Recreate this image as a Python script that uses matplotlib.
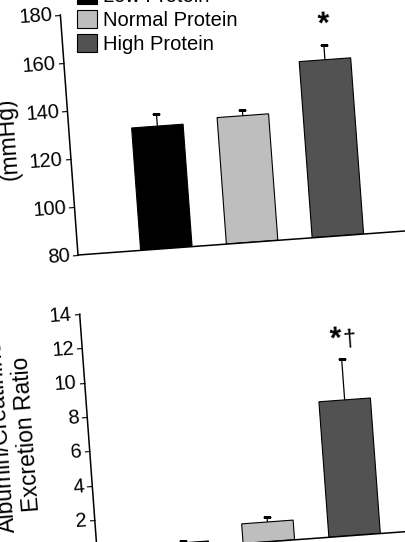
import numpy as np
import matplotlib
matplotlib.use('Agg')
import matplotlib.pyplot as plt
from matplotlib.transforms import Affine2D
from matplotlib.patches import Patch
import mpl_toolkits.axisartist.floating_axes as floating_axes
from mpl_toolkits.axisartist.grid_finder import FixedLocator, DictFormatter

plt.rcParams['font.family'] = ['Liberation Sans', 'DejaVu Sans']
plt.rcParams['xtick.labelsize'] = 14.5
plt.rcParams['ytick.labelsize'] = 14.5

# groups and colours
groups = ['Low Protein', 'Normal Protein', 'High Protein']
colors = ['#000000', '#bebebe', '#525252']
xpos = [1, 2, 3]

# top panel: blood pressure (mmHg), mean and +SE
bp_mean = [131.0, 132.7, 153.4]
bp_err = [5.2, 2.5, 6.2]
bp_ticks = [80, 100, 120, 140, 160, 180]

# bottom panel: albumin/creatinine excretion ratio
acr_mean = [0.3, 1.15, 7.9]
acr_err = [0.1, 0.3, 2.4]
acr_ticks = [0, 2, 4, 6, 8, 10, 12, 14]

FIG_W, FIG_H = 406, 542
ANGLE = 4.2   # the scanned figure is tilted a little


def tilted_axes(fig, origin, xlim, ylim, px_x, px_y, yticks):
    # data -> pixels (rotated), so the host axes works in plain pixel units
    tr = Affine2D().translate(-xlim[0], -ylim[0]).scale(px_x, px_y).rotate_deg(ANGLE)
    c, s = np.cos(np.radians(ANGLE)), np.sin(np.radians(ANGLE))
    w = (xlim[1] - xlim[0]) * px_x
    h = (ylim[1] - ylim[0]) * px_y
    bw, bh = w * c + h * s, w * s + h * c
    # floating axes pads its limits by 2 %
    left = origin[0] - h * s - 0.01 * bw
    bottom = origin[1] - 0.01 * bh
    rect = [left / FIG_W, bottom / FIG_H, 1.02 * bw / FIG_W, 1.02 * bh / FIG_H]

    gh = floating_axes.GridHelperCurveLinear(
        tr, extremes=(xlim[0], xlim[1], ylim[0], ylim[1]),
        grid_locator1=FixedLocator(xpos),
        grid_locator2=FixedLocator(yticks),
        tick_formatter2=DictFormatter({v: str(v) for v in yticks}))
    ax = fig.add_axes(rect, axes_class=floating_axes.FloatingAxes, grid_helper=gh)

    ax.axis['top'].set_visible(False)
    ax.axis['right'].set_visible(False)
    ax.axis['bottom'].toggle(ticks=False, ticklabels=False, label=False)
    la = ax.axis['left']
    la.major_ticks.set_tick_out(True)
    la.major_ticks.set_ticksize(4)
    la.major_ticklabels.set_fontsize(14.5)
    la.major_ticklabels.set_pad(2)
    la.label.set_visible(False)
    for side in ['left', 'bottom']:
        ax.axis[side].line.set_linewidth(1.1)

    aux = ax.get_aux_axes(tr)
    aux.patch = ax.patch
    ax.patch.zorder = 0.9
    return ax, aux


def bars_with_se(aux, means, errs, base=0):
    aux.bar(xpos, np.array(means) - base, bottom=base, width=0.6, color=colors,
            edgecolor='black', linewidth=0.8)
    _, caps, _ = aux.errorbar(xpos, means, yerr=[np.zeros(len(means)), errs], fmt='none',
                              ecolor='black', elinewidth=0.9, capsize=3.2, capthick=0.9)
    # only the upper cap is drawn in the original
    caps[0].set_visible(False)


fig = plt.figure(figsize=(FIG_W / 100, FIG_H / 100), dpi=100)

# ---- top panel ----
ax1, aux1 = tilted_axes(fig, (78, FIG_H - 255), (-0.03, 4.6), (80, 180), 86, 2.407, bp_ticks)
bars_with_se(aux1, bp_mean, bp_err, base=80)
aux1.text(3.02, 167.8, '*', rotation=ANGLE, ha='center', va='center',
          fontsize=22, fontweight='bold')

# ---- bottom panel ----
ax2, aux2 = tilted_axes(fig, (97.3, FIG_H - 554.3), (0, 4.6), (0, 14), 86, 17.2, acr_ticks)
bars_with_se(aux2, acr_mean, acr_err)
aux2.text(2.95, 11.41, '*', rotation=ANGLE, ha='center', va='center',
          fontsize=22, fontweight='bold')
aux2.text(3.11, 11.35, '\u2020', rotation=ANGLE, ha='center', va='center', fontsize=17)

# y labels (first line of the top one is outside the crop)
fig.text(8 / FIG_W, (FIG_H - 138.5) / FIG_H, '(mmHg)', rotation=90 + ANGLE,
         rotation_mode='anchor', ha='center', va='center', fontsize=16.5)
fig.text(14 / FIG_W, (FIG_H - 435.5) / FIG_H, 'Albumin/Creatinine\nExcretion Ratio',
         rotation=90 + ANGLE, rotation_mode='anchor', ha='center', va='center',
         multialignment='center', fontsize=16.5, linespacing=1.15)

handles = [Patch(facecolor=c, edgecolor='black', linewidth=0.8, label=g)
           for g, c in zip(groups, colors)]
fig.legend(handles=handles, loc='upper left', bbox_to_anchor=(77 / FIG_W, 556 / FIG_H),
           frameon=False, fontsize=14.5, handlelength=1.0, handleheight=1.0,
           handletextpad=0.3, labelspacing=0.2, borderpad=0, borderaxespad=0)

fig.savefig('out.png', dpi=100)
